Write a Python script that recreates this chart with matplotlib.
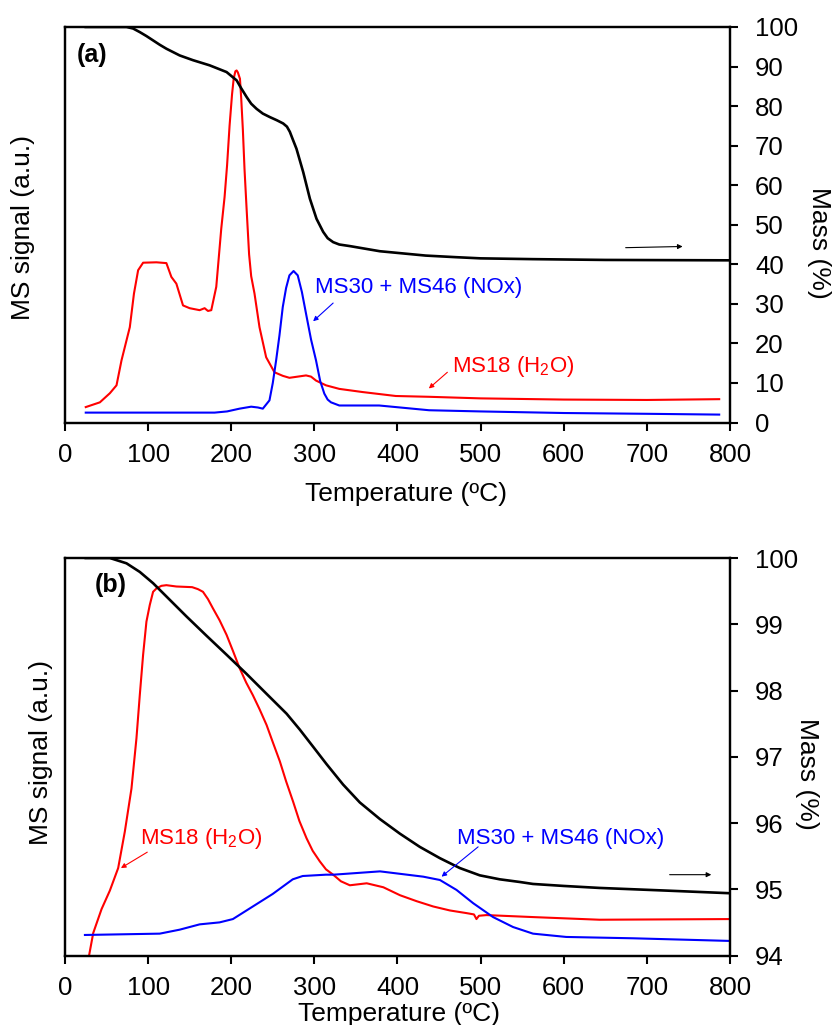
import matplotlib
matplotlib.use('Agg')
import matplotlib.pyplot as plt

plt.rcParams['font.family'] = ['Liberation Sans', 'DejaVu Sans']
plt.rcParams['mathtext.default'] = 'regular'

# ---- panel (a) ----
T_mass_a = [25, 74, 82, 90, 98, 106, 114, 122, 138, 154, 174, 194.4, 206.5, 212, 218.5, 224, 230.5, 238, 246.6, 255,
            262.5, 267, 270.5, 274, 278.5, 286.6, 294.6, 302.6, 310.6, 316, 322.6, 330, 342.7, 378.8, 434, 470,
            500, 563, 650, 800]
mass_a = [100, 100, 99.6, 98.7, 97.7, 96.6, 95.5, 94.5, 92.8, 91.6, 90.3, 88.6, 86.5, 84.5, 82.3, 80.6, 79.3, 78.1, 77.2, 76.4,
          75.6, 74.8, 73.5, 71.6, 69.2, 63.3, 56.6, 51.5, 48.2, 46.6, 45.6, 45.0, 44.6, 43.3, 42.2, 41.8,
          41.5, 41.3, 41.1, 41.0]

T_h2o_a = [25, 42, 54, 62, 68, 78, 83, 88, 94, 110, 122, 128, 134, 142, 150, 162, 168, 172, 176, 182,
           188, 192, 195, 198, 201, 203, 205, 206.5, 208, 210.5, 212, 214, 216, 218.5, 221.5, 224, 228, 234, 242, 252,
           262, 270, 280, 290, 296, 302, 314, 330, 358, 398, 438, 500, 600, 700, 787]
h2o_a = [3.9, 5.1, 7.4, 9.4, 15.7, 24.1, 32.6, 38.5, 40.4, 40.5, 40.3, 36.8, 35.1, 29.6, 28.9, 28.4, 28.9, 28.2, 28.4, 34.3,
         49.0, 57.0, 65.0, 75.0, 83.0, 87.0, 88.8, 89.0, 88.5, 86.9, 82.0, 74.0, 64.0, 54.0, 42.5, 37.0, 32.6, 24.1, 16.5, 12.7,
         11.8, 11.3, 11.6, 11.9, 11.6, 10.6, 9.4, 8.5, 7.7, 6.7, 6.5, 6.1, 5.8, 5.7, 5.9]

T_nox_a = [25, 100, 180, 195, 210, 224, 232, 238, 246, 250, 254, 258, 262, 266, 270, 275, 280, 285, 290, 296,
           302, 307, 312, 316, 320, 330, 338, 378, 438, 500, 600, 700, 787]
nox_a = [2.5, 2.5, 2.5, 2.8, 3.5, 4.0, 3.8, 3.5, 5.6, 10.0, 15.7, 22.0, 29.2, 34.0, 37.2, 38.3, 37.2, 33.0, 27.5, 21.0,
         15.7, 10.5, 7.3, 5.8, 5.1, 4.3, 4.3, 4.3, 3.1, 2.8, 2.4, 2.2, 2.0]

# ---- panel (b) ----
T_mass_b = [25, 54, 74, 90, 106, 122, 146, 170, 194.4, 218.5, 242.5, 266.6, 282.5, 298.6, 314.6, 334.6, 354.7, 378.8,
            402.8, 426.8, 450.9, 475, 499, 523, 547, 563, 600, 643, 723, 800]
mass_b = [100, 100, 99.92, 99.79, 99.62, 99.42, 99.12, 98.83, 98.54, 98.25, 97.95, 97.65, 97.41, 97.15, 96.89, 96.58,
          96.31, 96.06, 95.84, 95.64, 95.47, 95.32, 95.21, 95.15, 95.11, 95.08, 95.05, 95.02, 94.98, 94.94]

T_h2o_b = [27, 29, 34, 44, 54, 64, 72, 80, 86, 90, 94, 98, 102, 106, 110, 116, 122, 134, 153, 160,
           166, 172, 178, 186, 194.4, 202, 210, 218, 226, 234, 242.5, 250, 258.5, 266, 274.5, 282, 290.6, 298, 306.6, 314,
           322.6, 332, 342.7, 363, 383, 403, 423, 443, 463, 483, 492, 495, 498, 507, 563, 643, 800]
h2o_b = [93.7, 94.0, 94.34, 94.7, 94.98, 95.32, 95.87, 96.52, 97.28, 97.93, 98.54, 99.04, 99.29, 99.49, 99.54, 99.58,
         99.59, 99.57, 99.56, 99.53, 99.49, 99.38, 99.24, 99.06, 98.84, 98.6, 98.34, 98.12, 97.93, 97.72, 97.48, 97.22,
         96.93, 96.63, 96.32, 96.03, 95.77, 95.58, 95.42, 95.3, 95.22, 95.12, 95.06, 95.09, 95.03, 94.91, 94.82, 94.74,
         94.68, 94.64, 94.62, 94.55, 94.6, 94.61, 94.58, 94.54, 94.55]

T_nox_b = [24, 114, 138, 162, 186, 202, 226, 250, 262, 274, 286, 314, 323, 379, 431, 451, 471, 491, 515, 539, 563,
           603, 683, 800]
nox_b = [94.31, 94.33, 94.39, 94.47, 94.5, 94.55, 94.74, 94.93, 95.04, 95.15, 95.2, 95.22, 95.22, 95.27, 95.19, 95.14,
         94.99, 94.79, 94.58, 94.43, 94.33, 94.28, 94.26, 94.22]

x_ticks = list(range(0, 801, 100))
mass_ticks_a = list(range(0, 101, 10))
mass_ticks_b = [94, 95, 96, 97, 98, 99, 100]


def panel(rect, T_h2o, h2o, T_nox, nox, T_mass, mass, ylim, yticks, lab_pos):
    ax = fig.add_axes(rect)
    ax.plot(T_h2o, h2o, color='red', lw=1.5)
    ax.plot(T_nox, nox, color='blue', lw=1.5)
    ax.set_xlim(0, 800)
    ax.set_ylim(ylim)
    ax.set_yticks([])
    ax.set_xticks(x_ticks)
    ax.tick_params(axis='x', direction='out', length=6, width=1.5, pad=9, labelsize=18.5)
    ax.set_xlabel('Temperature (ºC)', fontsize=19, va='center')
    ax.xaxis.set_label_coords(*lab_pos[0])
    ax.set_ylabel('MS signal (a.u.)', fontsize=19, va='center')
    ax.yaxis.set_label_coords(*lab_pos[1])

    ax2 = ax.twinx()
    ax2.plot(T_mass, mass, color='black', lw=1.9)
    ax2.set_ylim(ylim)
    ax2.set_yticks(yticks)
    ax2.tick_params(axis='y', direction='out', length=6, width=1.5, pad=12, labelsize=18.5)
    ax2.set_ylabel('Mass (%)', rotation=270, fontsize=19, va='center')
    ax2.yaxis.set_label_coords(*lab_pos[2])
    for a in (ax, ax2):
        for sp in a.spines.values():
            sp.set_linewidth(1.6)
    return ax2


def arrow(ax, start, end, color):
    ax.annotate('', xy=end, xytext=start,
                arrowprops=dict(arrowstyle='-|>', color=color, lw=0.8,
                                mutation_scale=7, shrinkA=0, shrinkB=0))


fig = plt.figure(figsize=(8.34, 10.25), dpi=100)

# (a)
axa = panel([0.0779, 0.5878, 0.7974, 0.3859], T_h2o_a, h2o_a, T_nox_a, nox_a, T_mass_a, mass_a,
            (0, 100), mass_ticks_a, [(0.513, -0.18), (-0.063, 0.492), (1.134, 0.454)])
axa.text(14, 92.9, '(a)', fontsize=18, fontweight='bold', va='center')
axa.text(300.6, 34.1, 'MS30 + MS46 (NOx)', color='blue', fontsize=16, va='center')
arrow(axa, (322.6, 30.2), (298.5, 25.6), 'blue')
axa.text(465.3, 14.2, 'MS18 (H$_2$O)', color='red', fontsize=16, va='center')
arrow(axa, (460, 12.7), (437.7, 8.6), 'red')
arrow(axa, (674.5, 44.2), (743, 44.5), 'black')

# (b)
axb = panel([0.0779, 0.0678, 0.7974, 0.3878], T_h2o_b, h2o_b, T_nox_b, nox_b, T_mass_b, mass_b,
            (94, 100), mass_ticks_b, [(0.503, -0.146), (-0.036, 0.51), (1.116, 0.458)])
axb.text(36, 99.59, '(b)', fontsize=18, fontweight='bold', va='center')
axb.text(90.2, 95.76, 'MS18 (H$_2$O)', color='red', fontsize=16, va='center')
arrow(axb, (99, 95.56), (67.3, 95.32), 'red')
axb.text(471, 95.76, 'MS30 + MS46 (NOx)', color='blue', fontsize=16, va='center')
arrow(axb, (497, 95.64), (453, 95.19), 'blue')
arrow(axb, (727.4, 95.22), (777.5, 95.22), 'black')

fig.savefig('out.png', dpi=100)
